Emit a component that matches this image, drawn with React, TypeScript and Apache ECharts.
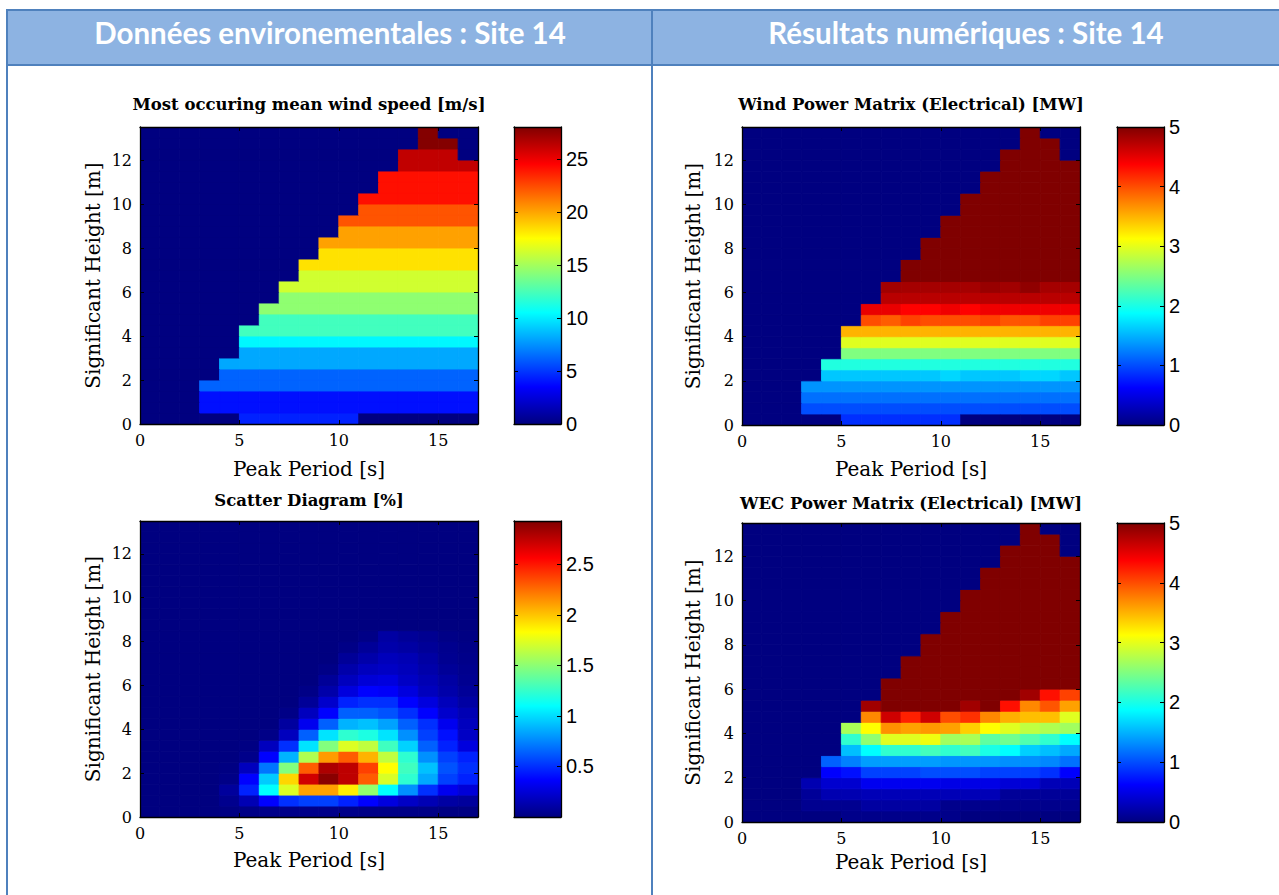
import React, { useEffect, useRef } from 'react';
import * as echarts from 'echarts';

// ---------- bins ----------
const tpEdges = [0, 1, 2, 3, 4, 5, 6, 7, 8, 9, 10, 11, 12, 13, 14, 15, 16, 17];
const hsEdges = [0, 0.5, 1, 1.5, 2, 2.5, 3, 3.5, 4, 4.5, 5, 5.5, 6, 6.5, 7, 7.5, 8, 8.5, 9, 9.5, 10, 10.5, 11, 11.5, 12, 12.5, 13, 13.5];

// occupied region of the (Tp, Hs) matrix: first column and end column (exclusive) per Hs row
const shapeStart = [5, 3, 3, 3, 4, 4, 5, 5, 5, 6, 6, 7, 7, 8, 8, 9, 9, 10, 10, 11, 11, 12, 12, 13, 13, 14, 14];
const shapeEnd = [11, 17, 17, 17, 17, 17, 17, 17, 17, 17, 17, 17, 17, 17, 17, 17, 17, 17, 17, 17, 17, 17, 17, 17, 16, 16, 15];

// ---------- values ----------
// mean wind speed [m/s], one value per Hs row
const windSpeedByRow = [4.4, 3.9, 3.9, 6.2, 6.2, 8.1, 8.1, 10.3, 12.3, 12.3, 14.4, 14.4, 16.2, 16.2, 18.3, 18.3, 20.1, 20.1, 22.2, 22.2, 24.1, 24.1, 24.1, 26.2, 26.2, 27.9, 27.9];

// wind power [MW], row values from shapeStart
const windPowerRows = [
  [0.85, 0.85, 0.85, 0.85, 0.85, 0.85],
  [1.0, 1.0, 1.0, 1.0, 1.0, 1.0, 1.0, 1.0, 1.0, 1.0, 1.0, 1.0, 1.0, 1.0],
  [1.17, 1.17, 1.17, 1.17, 1.17, 1.17, 1.17, 1.17, 1.17, 1.17, 1.17, 1.17, 1.17, 1.17],
  [1.35, 1.35, 1.35, 1.35, 1.35, 1.35, 1.35, 1.35, 1.35, 1.35, 1.35, 1.35, 1.35, 1.35],
  [1.6, 1.6, 1.6, 1.6, 1.6, 1.6, 1.68, 1.6, 1.6, 1.6, 1.68, 1.68, 1.6],
  [2.03, 2.03, 2.03, 2.03, 2.03, 2.03, 2.03, 2.03, 2.03, 2.03, 2.03, 2.03, 2.03],
  [2.5, 2.5, 2.5, 2.5, 2.5, 2.5, 2.5, 2.5, 2.5, 2.5, 2.5, 2.5],
  [2.97, 2.97, 2.97, 2.97, 2.97, 2.97, 2.97, 2.97, 2.97, 2.97, 2.97, 2.97],
  [3.5, 3.5, 3.5, 3.5, 3.5, 3.5, 3.5, 3.5, 3.5, 3.5, 3.5, 3.5],
  [4.0, 3.92, 4.06, 4.0, 4.0, 4.0, 4.06, 3.96, 3.96, 4.06, 4.06],
  [4.48, 4.48, 4.37, 4.37, 4.45, 4.37, 4.45, 4.45, 4.45, 4.45, 4.45],
  [4.72, 4.72, 4.72, 4.72, 4.72, 4.72, 4.72, 4.72, 4.72, 4.72],
  [4.84, 4.82, 4.82, 4.82, 4.82, 4.88, 4.84, 4.92, 4.82, 4.82],
  [5, 5, 5, 5, 5, 5, 5, 5, 5],
  [5, 5, 5, 5, 5, 5, 5, 5, 5],
  [5, 5, 5, 5, 5, 5, 5, 5],
  [5, 5, 5, 5, 5, 5, 5, 5],
  [5, 5, 5, 5, 5, 5, 5],
  [5, 5, 5, 5, 5, 5, 5],
  [5, 5, 5, 5, 5, 5],
  [5, 5, 5, 5, 5, 5],
  [5, 5, 5, 5, 5],
  [5, 5, 5, 5, 5],
  [5, 5, 5, 5],
  [5, 5, 5],
  [5, 5],
  [5],
];

// WEC power [MW], row values from shapeStart
const wecPowerRows = [
  [0.05, 0.05, 0.05, 0.05, 0.05, 0.05],
  [0.08, 0.08, 0.08, 0.16, 0.16, 0.16, 0.16, 0.06, 0.06, 0.06, 0.06, 0.06, 0.06, 0.06],
  [0.12, 0.24, 0.24, 0.27, 0.27, 0.27, 0.27, 0.27, 0.27, 0.27, 0.12, 0.12, 0.12, 0.12],
  [0.24, 0.39, 0.39, 0.55, 0.55, 0.55, 0.55, 0.5, 0.5, 0.5, 0.43, 0.43, 0.27, 0.27],
  [0.62, 0.7, 0.94, 0.94, 0.94, 1.0, 1.0, 1.0, 0.94, 0.94, 0.94, 0.86, 0.62],
  [1.1, 1.25, 1.4, 1.4, 1.4, 1.4, 1.36, 1.36, 1.36, 1.33, 1.33, 1.29, 1.17],
  [1.56, 1.875, 2.11, 2.11, 2.2, 2.11, 2.19, 2.0, 1.875, 1.64, 1.56, 1.45],
  [2.11, 2.58, 2.97, 2.97, 3.05, 2.66, 2.7, 2.34, 2.42, 2.27, 2.11, 1.875],
  [2.7, 3.125, 3.67, 3.59, 3.63, 3.59, 3.36, 3.125, 2.97, 2.81, 2.73, 2.66],
  [3.71, 4.61, 4.22, 4.61, 4.0, 4.14, 3.71, 3.52, 3.44, 3.44, 2.97],
  [4.84, 5, 5, 5, 5, 4.84, 5, 4.3, 3.71, 3.96, 3.59],
  [5, 5, 5, 5, 5, 5, 5, 4.84, 4.3, 4.06],
  [5, 5, 5, 5, 5, 5, 5, 5, 5, 5],
  [5, 5, 5, 5, 5, 5, 5, 5, 5],
  [5, 5, 5, 5, 5, 5, 5, 5, 5],
  [5, 5, 5, 5, 5, 5, 5, 5],
  [5, 5, 5, 5, 5, 5, 5, 5],
  [5, 5, 5, 5, 5, 5, 5],
  [5, 5, 5, 5, 5, 5, 5],
  [5, 5, 5, 5, 5, 5],
  [5, 5, 5, 5, 5, 5],
  [5, 5, 5, 5, 5],
  [5, 5, 5, 5, 5],
  [5, 5, 5, 5],
  [5, 5, 5],
  [5, 5],
  [5],
];

// scatter diagram [%], full rows (Tp columns 0..16), Hs rows 0..16 (rows above are 0)
const scatterRows = [
  [0, 0, 0, 0, 0.01, 0.02, 0.03, 0.03, 0.03, 0.03, 0.03, 0.02, 0.02, 0.02, 0.02, 0.01, 0.01],
  [0, 0, 0, 0, 0.04, 0.15, 0.37, 0.5, 0.55, 0.55, 0.46, 0.37, 0.27, 0.2, 0.15, 0.1, 0.08],
  [0, 0, 0, 0, 0.08, 0.46, 1.1, 1.73, 2.1, 2.1, 1.88, 1.52, 1.1, 0.78, 0.5, 0.32, 0.25],
  [0, 0, 0, 0, 0.02, 0.37, 0.95, 1.95, 2.7, 2.9, 2.75, 2.3, 1.72, 1.23, 0.85, 0.55, 0.46],
  [0, 0, 0, 0, 0.01, 0.18, 0.7, 1.47, 2.3, 2.8, 2.75, 2.38, 1.83, 1.28, 0.92, 0.6, 0.5],
  [0, 0, 0, 0, 0, 0.03, 0.37, 0.88, 1.6, 2.12, 2.3, 2.05, 1.65, 1.23, 0.78, 0.55, 0.46],
  [0, 0, 0, 0, 0, 0.01, 0.18, 0.5, 1.02, 1.47, 1.73, 1.65, 1.28, 0.97, 0.64, 0.46, 0.27],
  [0, 0, 0, 0, 0, 0, 0.02, 0.18, 0.64, 1.02, 1.23, 1.18, 1.02, 0.78, 0.55, 0.41, 0.2],
  [0, 0, 0, 0, 0, 0, 0, 0.09, 0.32, 0.64, 0.88, 0.92, 0.83, 0.64, 0.5, 0.32, 0.18],
  [0, 0, 0, 0, 0, 0, 0, 0.02, 0.18, 0.37, 0.64, 0.64, 0.6, 0.5, 0.37, 0.22, 0.15],
  [0, 0, 0, 0, 0, 0, 0, 0, 0.07, 0.22, 0.46, 0.5, 0.5, 0.37, 0.27, 0.17, 0.1],
  [0, 0, 0, 0, 0, 0, 0, 0, 0.02, 0.12, 0.27, 0.37, 0.35, 0.27, 0.18, 0.12, 0.07],
  [0, 0, 0, 0, 0, 0, 0, 0, 0, 0.07, 0.18, 0.25, 0.27, 0.2, 0.15, 0.1, 0.05],
  [0, 0, 0, 0, 0, 0, 0, 0, 0, 0.02, 0.12, 0.18, 0.2, 0.17, 0.12, 0.07, 0.04],
  [0, 0, 0, 0, 0, 0, 0, 0, 0, 0, 0.07, 0.12, 0.17, 0.15, 0.1, 0.05, 0.03],
  [0, 0, 0, 0, 0, 0, 0, 0, 0, 0, 0.02, 0.07, 0.12, 0.1, 0.07, 0.04, 0.02],
  [0, 0, 0, 0, 0, 0, 0, 0, 0, 0, 0, 0.02, 0.1, 0.07, 0.05, 0.02, 0.01],
];

// colour scale limits
const windSpeedRange = [0, 28];
const powerRange = [0, 5];
const scatterRange = [0, 2.93];

const JET = ['#000080', '#0000FF', '#0080FF', '#00FFFF', '#80FF80', '#FFFF00', '#FF8000', '#FF0000', '#800000'];

const SERIF = "'DejaVu Serif', serif";
const SANS = "'Liberation Sans', Arial, sans-serif";
const HEAD = "Lato, 'Open Sans', sans-serif";

// ---------- helpers ----------
function emptyMatrix(): number[][] {
  return hsEdges.slice(0, -1).map(() => tpEdges.slice(0, -1).map(() => 0));
}
function matrixFromShapeRows(rows: number[][]): number[][] {
  const m = emptyMatrix();
  rows.forEach((vals, j) => vals.forEach((v, k) => { m[j][shapeStart[j] + k] = v; }));
  return m;
}
function matrixFromRowValues(vals: number[]): number[][] {
  const m = emptyMatrix();
  vals.forEach((v, j) => { for (let c = shapeStart[j]; c < shapeEnd[j]; c++) m[j][c] = v; });
  return m;
}
function matrixFromFullRows(rows: number[][]): number[][] {
  const m = emptyMatrix();
  rows.forEach((vals, j) => vals.forEach((v, c) => { m[j][c] = v; }));
  return m;
}
function toCells(m: number[][]) {
  const out: number[][] = [];
  m.forEach((row, j) => row.forEach((v, c) => {
    out.push([tpEdges[c], hsEdges[j], tpEdges[c + 1], hsEdges[j + 1], v]);
  }));
  return out;
}

const renderCell = (_p: any, api: any) => {
  const a = api.coord([api.value(0), api.value(3)]);
  const b = api.coord([api.value(2), api.value(1)]);
  const col = api.visual('color');
  return {
    type: 'rect',
    shape: { x: a[0], y: a[1], width: b[0] - a[0], height: b[1] - a[1] },
    style: { fill: col, stroke: col, lineWidth: 0.9 },
  };
};

const renderBar = (_p: any, api: any) => {
  const a = api.coord([api.value(0), api.value(3)]);
  const b = api.coord([api.value(2), api.value(1)]);
  return {
    type: 'rect',
    shape: { x: a[0], y: a[1], width: b[0] - a[0], height: b[1] - a[1] },
    style: {
      fill: new echarts.graphic.LinearGradient(0, 1, 0, 0, JET.map((c, i) => ({ offset: i / (JET.length - 1), color: c }))),
    },
  };
};

export default function App() {
  const ref = useRef<HTMLDivElement>(null);

  useEffect(() => {
    if (!ref.current) return;
    const chart = echarts.init(ref.current, undefined, { renderer: 'svg' });

    const plots = [
      { title: 'Most occuring mean wind speed [m/s]', titleX: 309, titleY: 104, m: matrixFromRowValues(windSpeedByRow), range: windSpeedRange, interval: 5, hideMin: false, hideMax: true,
        plot: { left: 140, top: 127, width: 338, height: 297 }, bar: { left: 514, top: 127, width: 47, height: 297 }, xGap: 35, yGap: 37 },
      { title: 'Wind Power Matrix (Electrical) [MW]', titleX: 911, titleY: 104, m: matrixFromShapeRows(windPowerRows), range: powerRange, interval: 1, hideMin: false, hideMax: false,
        plot: { left: 742, top: 127, width: 338, height: 298 }, bar: { left: 1117, top: 127, width: 47, height: 298 }, xGap: 34, yGap: 39 },
      { title: 'Scatter Diagram [%]', titleX: 309, titleY: 500, m: matrixFromFullRows(scatterRows), range: scatterRange, interval: 0.5, hideMin: true, hideMax: true,
        plot: { left: 140, top: 521, width: 338, height: 296 }, bar: { left: 514, top: 521, width: 47, height: 296 }, xGap: 33, yGap: 37 },
      { title: 'WEC Power Matrix (Electrical) [MW]', titleX: 911, titleY: 503, m: matrixFromShapeRows(wecPowerRows), range: powerRange, interval: 1, hideMin: false, hideMax: false,
        plot: { left: 742, top: 523, width: 338, height: 299 }, bar: { left: 1117, top: 523, width: 47, height: 299 }, xGap: 30, yGap: 39 },
    ];

    const frame = { show: true, onZero: false, lineStyle: { color: '#000', width: 1.3 } };
    const tickIn = { show: true, inside: true, length: 4, lineStyle: { color: '#000', width: 1 } };
    const serifLabel = { color: '#000', fontFamily: SERIF, fontSize: 16 };
    const nameStyle = { color: '#000', fontFamily: SERIF, fontSize: 20 };

    const grid: any[] = [];
    const xAxis: any[] = [];
    const yAxis: any[] = [];
    const series: any[] = [];
    const visualMap: any[] = [];
    const texts: any[] = [];

    plots.forEach((p, i) => {
      const gp = 2 * i, gb = 2 * i + 1;
      grid.push({ ...p.plot }, { ...p.bar });
      const xMax = tpEdges[tpEdges.length - 1];
      const yMax = hsEdges[hsEdges.length - 1];
      // plot axes
      xAxis.push(
        { gridIndex: gp, type: 'value', min: 0, max: xMax, interval: 5, position: 'bottom', z: 5,
          axisLine: frame, axisTick: tickIn, splitLine: { show: false },
          axisLabel: { ...serifLabel, margin: 8, showMaxLabel: false },
          name: 'Peak Period [s]', nameLocation: 'middle', nameGap: p.xGap, nameTextStyle: nameStyle },
        { gridIndex: gp, type: 'value', min: 0, max: xMax, interval: 5, position: 'top', z: 5,
          axisLine: frame, axisTick: tickIn, splitLine: { show: false }, axisLabel: { show: false } },
      );
      yAxis.push(
        { gridIndex: gp, type: 'value', min: 0, max: yMax, interval: 2, position: 'left', z: 5,
          axisLine: frame, axisTick: tickIn, splitLine: { show: false },
          axisLabel: { ...serifLabel, margin: 8, showMaxLabel: false },
          name: 'Significant Height [m]', nameLocation: 'middle', nameGap: p.yGap, nameTextStyle: nameStyle },
        { gridIndex: gp, type: 'value', min: 0, max: yMax, interval: 2, position: 'right', z: 5,
          axisLine: frame, axisTick: tickIn, splitLine: { show: false }, axisLabel: { show: false } },
      );
      // colorbar axes
      xAxis.push(
        { gridIndex: gb, type: 'value', min: 0, max: 1, position: 'bottom', z: 5, axisLine: frame,
          axisTick: { show: false }, axisLabel: { show: false }, splitLine: { show: false } },
        { gridIndex: gb, type: 'value', min: 0, max: 1, position: 'top', z: 5, axisLine: frame,
          axisTick: { show: false }, axisLabel: { show: false }, splitLine: { show: false } },
      );
      yAxis.push(
        { gridIndex: gb, type: 'value', min: p.range[0], max: p.range[1], interval: p.interval, position: 'right', z: 5,
          axisLine: frame, axisTick: tickIn, splitLine: { show: false },
          axisLabel: { color: '#000', fontFamily: SANS, fontSize: 20, margin: 5, showMinLabel: !p.hideMin, showMaxLabel: !p.hideMax } },
        { gridIndex: gb, type: 'value', min: p.range[0], max: p.range[1], interval: p.interval, position: 'left', z: 5,
          axisLine: frame, axisTick: tickIn, splitLine: { show: false }, axisLabel: { show: false } },
      );
      series.push(
        { type: 'custom', name: p.title, xAxisIndex: 4 * i, yAxisIndex: 4 * i, clip: true, z: 2,
          renderItem: renderCell, encode: { x: [0, 2], y: [1, 3] }, data: toCells(p.m) },
        { type: 'custom', name: p.title + ' colorbar', xAxisIndex: 4 * i + 2, yAxisIndex: 4 * i + 2, z: 2, silent: true,
          renderItem: renderBar, encode: { x: [0, 2], y: [1, 3] }, data: [[0, p.range[0], 1, p.range[1]]] },
      );
      visualMap.push({ type: 'continuous', show: false, seriesIndex: 2 * i, dimension: 4,
        min: p.range[0], max: p.range[1], inRange: { color: JET } });
      texts.push({ type: 'text', x: p.titleX, y: p.titleY, z: 10,
        style: { text: p.title, fill: '#000', fontFamily: SERIF, fontSize: 16.5, fontWeight: 'bold',
          textAlign: 'center', textVerticalAlign: 'middle', align: 'center', verticalAlign: 'middle' } });
    });

    const border = '#4F81BD';
    const graphic: any[] = [
      { type: 'rect', z: 0, shape: { x: 7, y: 10, width: 1272, height: 55 }, style: { fill: '#8DB3E2' } },
      { type: 'line', z: 1, shape: { x1: 6, y1: 10, x2: 1279, y2: 10 }, style: { stroke: border, lineWidth: 2 } },
      { type: 'line', z: 1, shape: { x1: 6, y1: 65, x2: 1279, y2: 65 }, style: { stroke: border, lineWidth: 2 } },
      { type: 'line', z: 1, shape: { x1: 7, y1: 9, x2: 7, y2: 895 }, style: { stroke: border, lineWidth: 2 } },
      { type: 'line', z: 1, shape: { x1: 652, y1: 9, x2: 652, y2: 895 }, style: { stroke: border, lineWidth: 2 } },
      { type: 'text', z: 2, x: 330, y: 32, style: { text: 'Données environementales : Site 14', fill: '#fff', fontFamily: HEAD, fontSize: 29.5, fontWeight: 'bold',
        textAlign: 'center', textVerticalAlign: 'middle', align: 'center', verticalAlign: 'middle' } },
      { type: 'text', z: 2, x: 966, y: 32, style: { text: 'Résultats numériques : Site 14', fill: '#fff', fontFamily: HEAD, fontSize: 29.5, fontWeight: 'bold',
        textAlign: 'center', textVerticalAlign: 'middle', align: 'center', verticalAlign: 'middle' } },
      ...texts,
    ];

    chart.setOption({
      animation: false,
      backgroundColor: '#ffffff',
      grid, xAxis, yAxis, series, visualMap, graphic,
    });

    return () => chart.dispose();
  }, []);

  return <div ref={ref} style={{ position: 'fixed', left: 0, top: 0, width: 1279, height: 895, background: '#fff' }} />;
}
